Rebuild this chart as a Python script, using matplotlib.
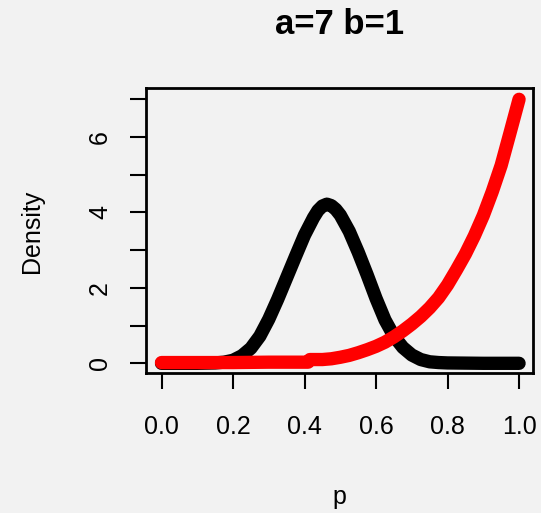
import matplotlib
matplotlib.use("Agg")
import matplotlib.pyplot as plt

#########################################################
# Data
#########################################################

black_p = [0, 0.1, 0.15, 0.175, 0.2, 0.225, 0.25, 0.275, 0.3, 0.325, 0.35, 0.375,
           0.4, 0.425, 0.4375, 0.45, 0.4625, 0.475, 0.4875, 0.5, 0.525, 0.55,
           0.575, 0.6, 0.625, 0.65, 0.675, 0.7, 0.725, 0.75, 0.775, 0.8, 0.9, 1.0]
black_d = [0, 0, 0.01, 0.03, 0.08, 0.2, 0.4, 0.72, 1.17, 1.7, 2.27, 2.84,
           3.4, 3.86, 4.05, 4.17, 4.22, 4.18, 4.08, 3.93, 3.5, 2.95,
           2.35, 1.72, 1.15, 0.72, 0.42, 0.22, 0.1, 0.04, 0.02, 0.01, 0, 0]

red_p = [0, 0.1, 0.2, 0.3, 0.41, 0.415, 0.45, 0.475, 0.5, 0.525, 0.55, 0.575,
         0.6, 0.625, 0.65, 0.675, 0.7, 0.725, 0.75, 0.775, 0.8, 0.825, 0.85,
         0.875, 0.9, 0.925, 0.95, 0.975, 1.0]
red_d = [0.02, 0.02, 0.02, 0.03, 0.03, 0.1, 0.1, 0.12, 0.16, 0.21, 0.28, 0.36,
         0.45, 0.56, 0.7, 0.86, 1.04, 1.24, 1.47, 1.74, 2.08, 2.48, 2.9,
         3.38, 3.92, 4.55, 5.25, 6.12, 7.0]

x_ticks = [0.0, 0.2, 0.4, 0.6, 0.8, 1.0]
y_ticks = [0, 1, 2, 3, 4, 5, 6, 7]
y_labels = ["0", "", "2", "", "4", "", "6", ""]

title = "a=7 b=1"

#########################################################
# Plot
#########################################################

plt.rcParams["font.family"] = ["Liberation Sans", "DejaVu Sans"]
bg = "#f2f2f2"

fig = plt.figure(figsize=(5.41, 5.13), dpi=100, facecolor=bg)
ax = fig.add_axes([146 / 541, 1 - 373 / 513, 387 / 541, 285 / 513], facecolor=bg)

ax.plot(black_p, black_d, color="black", linewidth=9.6,
        solid_capstyle="round", solid_joinstyle="round")
ax.plot(red_p, red_d, color="red", linewidth=9.6,
        solid_capstyle="round", solid_joinstyle="round")

ax.set_xlim(-0.0434, 1.039)
ax.set_ylim(-0.257, 7.30)

ax.set_xticks(x_ticks)
ax.set_xticklabels([f"{t:.1f}" for t in x_ticks])
ax.set_yticks(y_ticks)
ax.set_yticklabels(y_labels, rotation=90, va="center")

ax.tick_params(axis="x", length=11.5, width=1.5, labelsize=18, pad=19)
ax.tick_params(axis="y", length=11.5, width=1.5, labelsize=18, pad=13)

for s in ax.spines.values():
    s.set_linewidth(2.0)

fig.text(339.5 / 541, 1 - 25 / 513, title, ha="center", va="center",
         fontsize=25, fontweight="bold")
fig.text(339.5 / 541, 1 - 497 / 513, "p", ha="center", va="center", fontsize=18)
fig.text(32.5 / 541, 1 - 231 / 513, "Density", ha="center", va="center",
         fontsize=18, rotation=90)

fig.savefig("out.png", dpi=100, facecolor=bg)
